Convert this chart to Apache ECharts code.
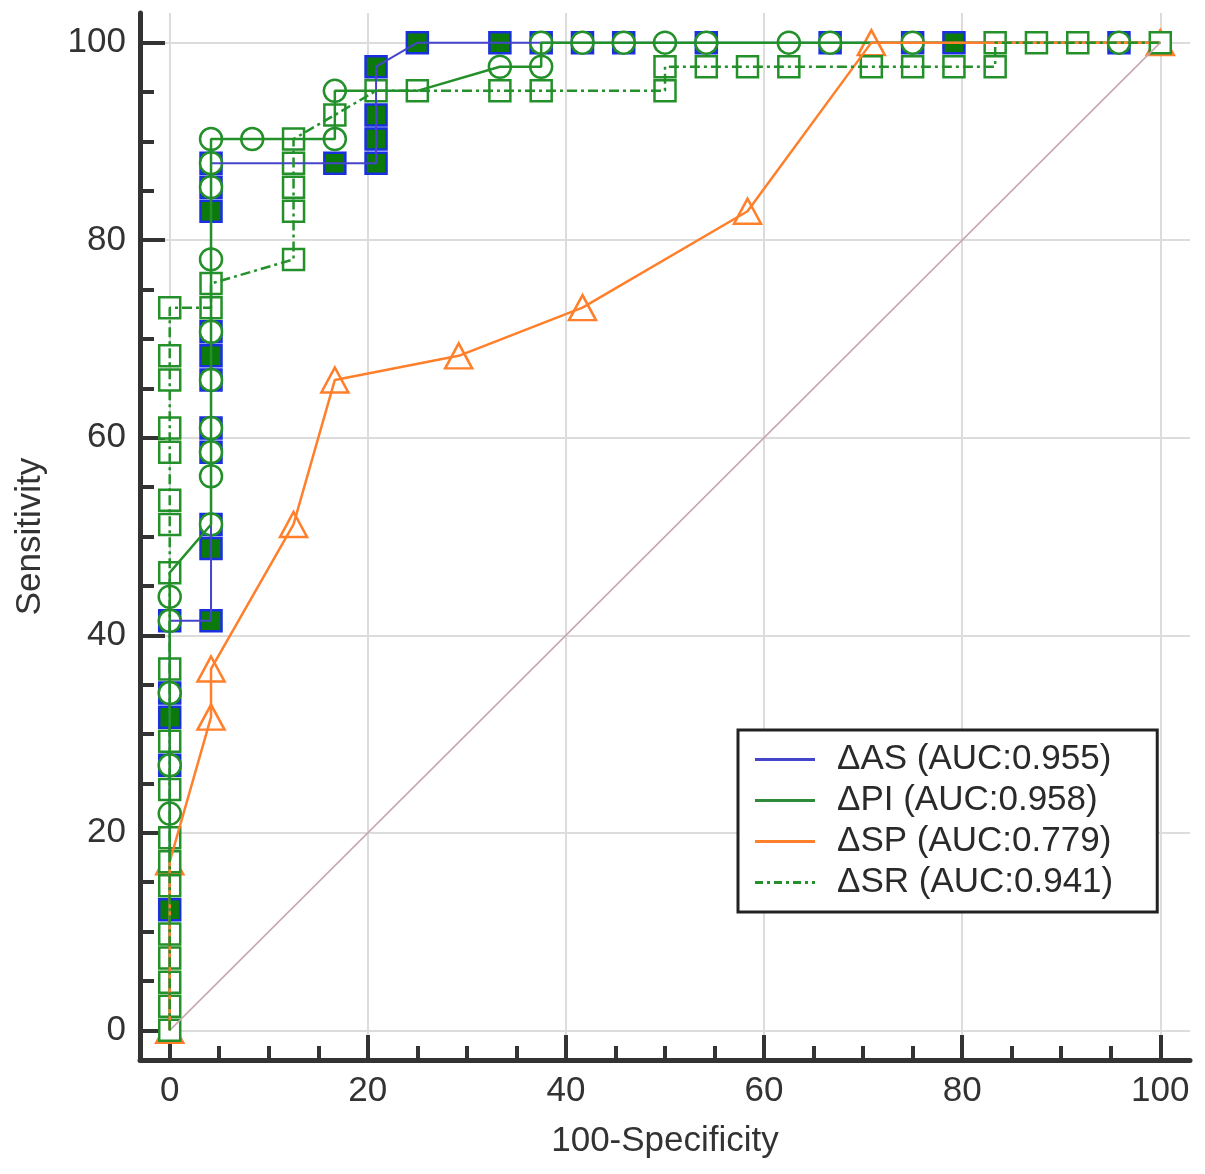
<!DOCTYPE html>
<html>
<head>
<meta charset="utf-8">
<script src="https://cdn.jsdelivr.net/npm/echarts@6/dist/echarts.min.js"></script>
<style>
html,body{margin:0;padding:0;background:#fff;}
#chart{width:1205px;height:1174px;}
</style>
</head>
<body>
<div id="chart"></div>
<script>
// tick labels on both axes
var tickValues = [0, 20, 40, 60, 80, 100];
var seriesNames = ['ΔAS (AUC:0.955)', 'ΔPI (AUC:0.958)', 'ΔSP (AUC:0.779)', 'ΔSR (AUC:0.941)'];

// reference line
var diagonal = [[0, 0], [100, 100]];

// ΔAS : curve vertices and marked points
var asCurve = [[0, 0], [0, 41.46], [4.17, 41.46], [4.17, 87.80], [20.83, 87.80], [20.83, 97.56], [25, 100], [100, 100]];
var asMarks = [[0, 12.20], [0, 26.83], [0, 31.71], [0, 34.15], [0, 41.46], [4.17, 41.46], [4.17, 48.78], [4.17, 51.22],
  [4.17, 58.54], [4.17, 60.98], [4.17, 65.85], [4.17, 68.29], [4.17, 70.73], [4.17, 82.93], [4.17, 85.37], [4.17, 87.80],
  [16.67, 87.80], [20.83, 87.80], [20.83, 90.24], [20.83, 92.68], [20.83, 97.56], [25, 100], [33.33, 100], [37.5, 100],
  [41.67, 100], [45.83, 100], [54.17, 100], [66.67, 100], [75, 100], [79.17, 100], [95.83, 100]];

// ΔPI
var piCurve = [[0, 0], [0, 46.34], [4.17, 51.22], [4.17, 90.24], [16.67, 90.24], [16.67, 95.12], [25, 95.12],
  [33.33, 97.56], [37.5, 97.56], [37.5, 100], [100, 100]];
var piMarks = [[0, 21.95], [0, 26.83], [0, 34.15], [0, 41.46], [0, 43.90], [4.17, 51.22], [4.17, 56.10], [4.17, 58.54],
  [4.17, 60.98], [4.17, 65.85], [4.17, 70.73], [4.17, 78.05], [4.17, 85.37], [4.17, 87.80], [4.17, 90.24], [8.33, 90.24],
  [16.67, 90.24], [16.67, 95.12], [33.33, 97.56], [37.5, 97.56], [37.5, 100], [41.67, 100], [45.83, 100], [50, 100],
  [54.17, 100], [62.5, 100], [66.67, 100], [75, 100], [95.83, 100]];

// ΔSP
var spCurve = [[0, 0], [0, 17.07], [4.17, 31.71], [4.17, 36.59], [12.5, 51.22], [16.67, 65.85], [29.17, 68.29],
  [41.67, 73.17], [58.33, 82.93], [70.83, 100], [100, 100]];
var spMarks = spCurve;

// ΔSR
var srCurve = [[0, 0], [0, 73.17], [4.17, 73.17], [4.17, 75.61], [12.5, 78.05], [12.5, 90.24], [16.67, 92.68],
  [20.83, 95.12], [50, 95.12], [50, 97.56], [83.33, 97.56], [83.33, 100], [100, 100]];
var srMarks = [[0, 0], [0, 2.44], [0, 4.88], [0, 7.32], [0, 9.76], [0, 14.63], [0, 17.07], [0, 19.51], [0, 24.39],
  [0, 29.27], [0, 36.59], [0, 46.34], [0, 51.22], [0, 53.66], [0, 58.54], [0, 60.98], [0, 65.85], [0, 68.29], [0, 73.17],
  [4.17, 73.17], [4.17, 75.61], [12.5, 78.05], [12.5, 82.93], [12.5, 85.37], [12.5, 87.80], [12.5, 90.24], [16.67, 92.68],
  [20.83, 95.12], [25, 95.12], [33.33, 95.12], [37.5, 95.12], [50, 95.12], [50, 97.56], [54.17, 97.56], [58.33, 97.56],
  [62.5, 97.56], [70.83, 97.56], [75, 97.56], [79.17, 97.56], [83.33, 97.56], [83.33, 100], [87.5, 100], [91.67, 100],
  [100, 100]];

var FONT = '"Liberation Sans", Arial, sans-serif';
var blueLine = '#4545cc', green = '#23902a', orange = '#ff7f2a';

var chart = echarts.init(document.getElementById('chart'));

function axis(name, gap) {
  return {
    type: 'value', min: -3, max: 103,
    name: name, nameLocation: 'middle', nameGap: gap,
    nameTextStyle: {fontSize: 35, color: '#333', fontFamily: FONT},
    axisLine: {onZero: false, lineStyle: {color: '#333', width: 5}},
    axisTick: {inside: true, length: 25, customValues: tickValues, lineStyle: {color: '#333', width: 4}},
    minorTick: {show: true, splitNumber: 4, length: 14, lineStyle: {color: '#333', width: 4}},
    axisLabel: {customValues: tickValues, fontSize: 35, color: '#333', fontFamily: FONT, margin: 14},
    splitLine: {show: true, lineStyle: {color: '#dcdcdc', width: 2}}
  };
}

function curve(name, data, color, width, type) {
  return {
    name: name, type: 'line', data: data, symbol: 'none', silent: true,
    lineStyle: {color: color, width: width, type: type || 'solid'},
    itemStyle: {color: color}
  };
}

function marks(data, symbol, size, fill, border) {
  return {
    type: 'scatter', data: data, symbol: symbol, symbolSize: size, silent: true,
    itemStyle: {color: fill, borderColor: border, borderWidth: 2.5, opacity: 1}
  };
}

var solidIcon = 'path://M0,0H60V3H0Z';
var dashDotIcon = 'path://M0,0H8V3H0Z M12,0H15V3H12Z M19,0H27V3H19Z M31,0H34V3H31Z M38,0H46V3H38Z M50,0H53V3H50Z M57,0H60V3H57Z';

var option = {
  animation: false,
  backgroundColor: '#fff',
  grid: {left: 140, right: 15, top: 13, bottom: 114},
  xAxis: axis('100-Specificity', 64),
  yAxis: axis('Sensitivity', 92),
  legend: {
    left: 738, top: 730, orient: 'vertical',
    backgroundColor: '#fff', borderColor: '#222', borderWidth: 3,
    padding: [12, 44, 12, 17],
    itemWidth: 62, itemHeight: 3, itemGap: 6,
    selectedMode: false,
    textStyle: {fontSize: 35, lineHeight: 35, color: '#2a2a2a', fontFamily: FONT, padding: [0, 0, 0, 16]},
    data: [
      {name: seriesNames[0], icon: solidIcon, itemStyle: {color: blueLine}},
      {name: seriesNames[1], icon: solidIcon, itemStyle: {color: '#2e8a36'}},
      {name: seriesNames[2], icon: solidIcon, itemStyle: {color: orange}},
      {name: seriesNames[3], icon: dashDotIcon, itemStyle: {color: green}}
    ]
  },
  series: [
    curve('diagonal', diagonal, '#c8a6b0', 1.5),
    curve(seriesNames[0], asCurve, blueLine, 2),
    marks(asMarks, 'rect', 21, '#0b7a0b', '#1a30e0'),
    curve(seriesNames[1], piCurve, green, 2.5),
    marks(piMarks, 'circle', 22, '#fff', green),
    curve(seriesNames[2], spCurve, orange, 2.5),
    marks(spMarks, 'triangle', [27, 25], '#fff', orange),
    curve(seriesNames[3], srCurve, green, 2.5, [10, 4, 3, 4]),
    marks(srMarks, 'rect', 21, '#fff', green)
  ]
};

chart.setOption(option);
</script>
</body>
</html>
